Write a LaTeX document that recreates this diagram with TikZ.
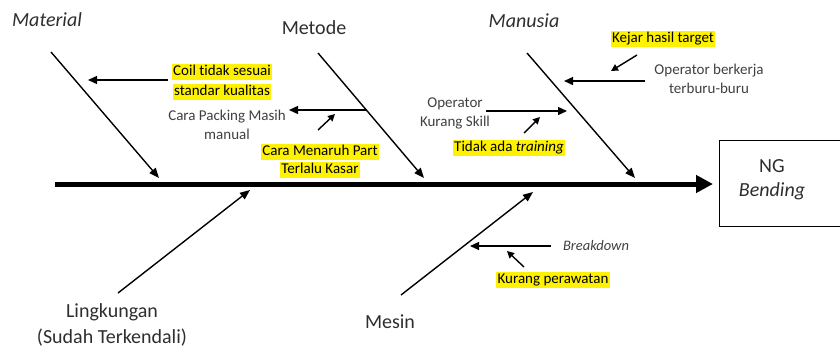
\documentclass[tikz,border=0pt]{standalone}
\usepackage{fontspec}
\setmainfont{Carlito}[Ligatures=NoCommon]
\usetikzlibrary{arrows.meta}
\tikzset{
  lbl/.style={font=\fontsize{20}{24}\selectfont, text=black!82, inner sep=0pt},
  sm/.style={font=\fontsize{15}{19}\selectfont, text=black!75, inner sep=0pt, align=center},
  hl/.style={font=\fontsize{15}{18}\selectfont, text=black, fill=yellow, inner sep=1.2pt, text height=10.8pt, text depth=3pt},
  bone/.style={line width=1.4pt, -{Triangle[length=10pt,width=8pt]}},
  sub/.style={line width=1.4pt, -{Triangle[length=9pt,width=8pt]}},
  tiny/.style={line width=1.4pt, -{Triangle[length=7pt,width=7pt]}},
}
\begin{document}
\begin{tikzpicture}[x=1pt,y=-1pt]
\useasboundingbox (0,0) rectangle (840,349);
% head box
\node[draw, line width=1.4pt, minimum width=140pt, minimum height=86pt, anchor=north west] (box) at (719,140) {};
\node[lbl] (ng) at (772,166) {NG};
\node[lbl] (bend) at (772,191) {\itshape Bending};
% spine
\coordinate (s0) at (55,184);
\coordinate (s1) at (713,184);
\draw[line width=5pt, -{Triangle[length=17pt,width=17pt]}] (s0) -- (s1);
% category labels
\node[lbl] (material) at (47,20) {\itshape Material};
\node[lbl] (metode) at (314,28) {Metode};
\node[lbl] (manusia) at (524,21) {\itshape Manusia};
\node[lbl, align=center, font=\fontsize{20}{26}\selectfont] (lingk) at (112,325) {Lingkungan\\(Sudah Terkendali)};
\node[lbl] (mesin) at (390,322) {Mesin};
% bones
\coordinate (ma0) at (51,52);  \coordinate (ma1) at (159,178);
\coordinate (me0) at (318,53); \coordinate (me1) at (424,178);
\coordinate (mn0) at (527,53); \coordinate (mn1) at (635,178);
\coordinate (li0) at (118,293); \coordinate (li1) at (250,190);
\coordinate (ms0) at (401,295); \coordinate (ms1) at (533,192);
\draw[bone] (ma0) -- (ma1);
\draw[bone] (me0) -- (me1);
\draw[bone] (mn0) -- (mn1);
\draw[bone] (li0) -- (li1);
\draw[bone] (ms0) -- (ms1);
% Material cause
\node[hl] (coil1) at (222,72) {Coil tidak sesuai};
\node[hl] (coil2) at (222,92) {standar kualitas};
\coordinate (coilA) at (168,80); \coordinate (coilB) at (88,80);
\draw[sub] (coilA) -- (coilB);
% Metode causes
\node[sm] (pack) at (227,125) {Cara Packing Masih\\manual};
\coordinate (packA) at (367,110); \coordinate (packB) at (289,110);
\draw[sub] (packA) -- (packB);
\node[hl] (kasar1) at (320,152) {Cara Menaruh Part};
\node[hl] (kasar2) at (320,170) {Terlalu Kasar};
\coordinate (kasA) at (318,130); \coordinate (kasB) at (335,114);
\draw[tiny] (kasA) -- (kasB);
% Manusia causes
\node[sm] (skill) at (455,113) {Operator\\Kurang Skill};
\coordinate (skA) at (486,111); \coordinate (skB) at (567,111);
\draw[sub] (skA) -- (skB);
\node[hl] (train) at (509,148) {Tidak ada \textit{training}};
\coordinate (trA) at (524,133); \coordinate (trB) at (540,117);
\draw[tiny] (trA) -- (trB);
\node[sm] (buru) at (709,79) {Operator berkerja\\terburu-buru};
\coordinate (buA) at (645,81); \coordinate (buB) at (564,81);
\draw[sub] (buA) -- (buB);
\node[hl] (kejar) at (663,39) {Kejar hasil target};
\coordinate (kjA) at (637,55); \coordinate (kjB) at (611,71);
\draw[tiny] (kjA) -- (kjB);
% Mesin causes
\node[sm, font=\fontsize{14.5}{17}\selectfont\itshape] (brk) at (596,246) {Breakdown};
\coordinate (brA) at (551,246); \coordinate (brB) at (470,246);
\draw[sub] (brA) -- (brB);
\node[hl] (rawat) at (553,280) {Kurang perawatan};
\coordinate (rwA) at (524,267); \coordinate (rwB) at (507,251);
\draw[tiny] (rwA) -- (rwB);
\end{tikzpicture}
\end{document}
